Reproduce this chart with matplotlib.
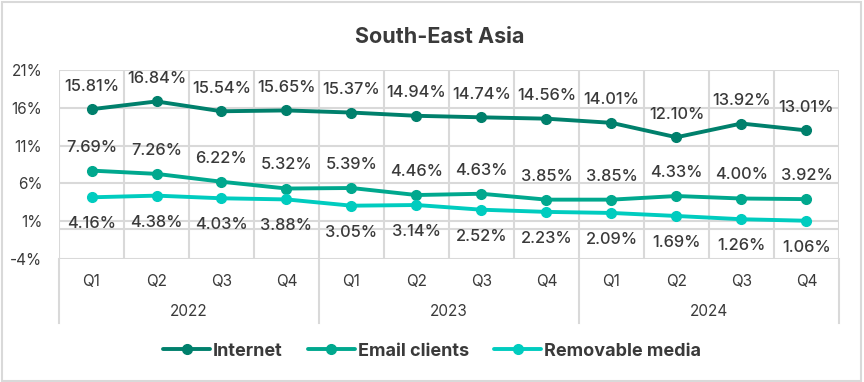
import numpy as np
import matplotlib
matplotlib.use("Agg")
import matplotlib.pyplot as plt
from matplotlib.patches import Rectangle

quarters = ["Q1", "Q2", "Q3", "Q4"] * 3
years = ["2022", "2023", "2024"]
internet = [15.81, 16.84, 15.54, 15.65, 15.37, 14.94, 14.74, 14.56, 14.01, 12.10, 13.92, 13.01]
email = [7.69, 7.26, 6.22, 5.32, 5.39, 4.46, 4.63, 3.85, 3.85, 4.33, 4.00, 3.92]
removable = [4.16, 4.38, 4.03, 3.88, 3.05, 3.14, 2.52, 2.23, 2.09, 1.69, 1.26, 1.06]
yticks = [-4, 1, 6, 11, 16, 21]

c_int = '#00806c'
c_mail = '#00a88e'
c_rem = '#00ccbf'
txt = '#3a3a3a'
grid = '#d9d9d9'

plt.rcParams['font.family'] = ['Inter', 'DejaVu Sans']

fig = plt.figure(figsize=(8.64, 3.82), dpi=100)
fig.patches.append(Rectangle((0.002, 0.003), 0.995, 0.993, transform=fig.transFigure,
                             fill=False, ec=grid, lw=1.5))
ax = fig.add_axes([0.0683, 0.322, 0.9027, 0.4948])

x = np.arange(len(quarters))
series = [(internet, c_int, 'Internet', 16.5),
          (email, c_mail, 'Email clients', 17),
          (removable, c_rem, 'Removable media', -19)]
for vals, col, name, off in series:
    ax.plot(x, vals, color=col, lw=2.8, marker='o', ms=7, label=name,
            solid_capstyle='round', zorder=3)
    for xi, v in zip(x, vals):
        ax.annotate(f"{v:.2f}%", (xi, v), xytext=(0, off), textcoords='offset points',
                    ha='center', va='center', fontsize=11.8, fontweight='medium',
                    color=txt, zorder=4)

ax.set_xlim(-0.5, len(quarters) - 0.5)
ax.set_ylim(-4, 21)
ax.set_yticks(yticks)
ax.set_yticklabels([f"{t}%" for t in yticks], fontsize=11, color=txt)
ax.set_xticks(x)
ax.set_xticklabels(quarters, fontsize=11, color=txt)
ax.tick_params(length=0, pad=11)
ax.tick_params(axis='y', pad=12)

for t in yticks + [0]:
    ax.axhline(t, color=grid, lw=1.5, zorder=1)
for b in np.arange(-0.5, len(quarters), 1):
    ax.axvline(b, color=grid, lw=1.5, zorder=1)
for b in [-0.5, 3.5, 7.5, 11.5]:
    ax.axvline(b, ymin=-0.34, ymax=0, color=grid, lw=1.5, clip_on=False)
for i, yr in enumerate(years):
    ax.text(1.5 + 4 * i, -0.28, yr, transform=ax.get_xaxis_transform(),
            ha='center', va='center', fontsize=11, color=txt)

for s in ax.spines.values():
    s.set_visible(False)

fig.text(0.509, 0.903, "South-East Asia", ha='center', va='center',
         fontsize=15.5, fontweight='bold', color=txt)

leg = fig.legend(loc='center', bbox_to_anchor=(0.5, 0.081), ncol=3, frameon=False,
                 handlelength=2.6, handletextpad=0.15, columnspacing=1.4,
                 prop={'size': 13, 'weight': 'bold'})
for t in leg.get_texts():
    t.set_color(txt)

fig.savefig("out.png", dpi=100)
